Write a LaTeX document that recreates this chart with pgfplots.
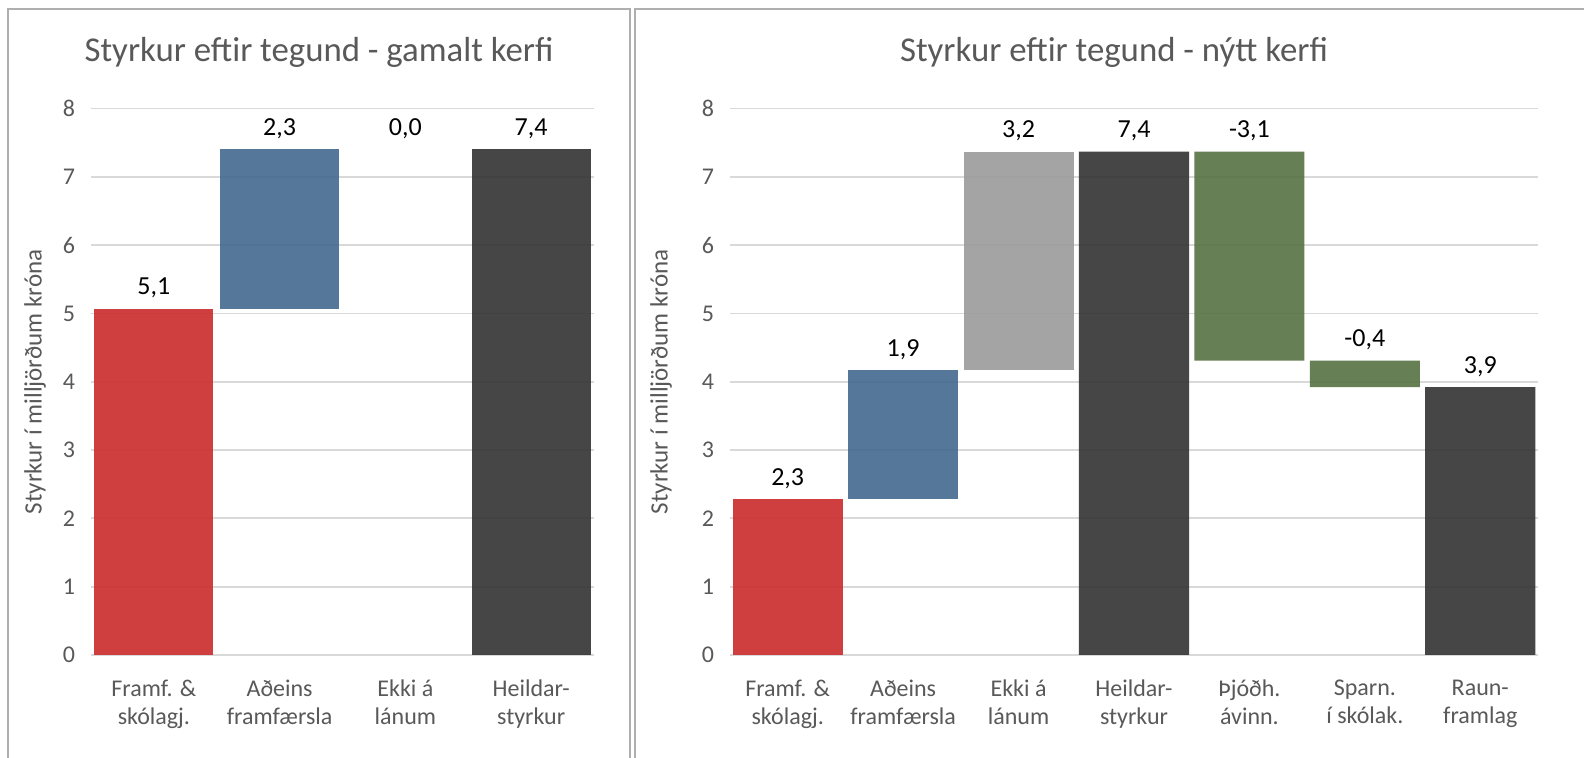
\documentclass[border=0pt]{standalone}
\usepackage{fontspec}
\setmainfont{Carlito}
\usepackage{pgfplots}
\usepackage{pgfplotstable}
\pgfplotsset{compat=1.18}

\definecolor{cred}{RGB}{203,43,43}
\definecolor{cblue}{RGB}{67,105,143}
\definecolor{cgray}{RGB}{155,155,155}
\definecolor{cdark}{RGB}{50,50,50}
\definecolor{cgreen}{RGB}{86,114,66}
\definecolor{txtgray}{RGB}{89,89,89}
\definecolor{gridgray}{RGB}{217,217,217}
\definecolor{framegray}{RGB}{175,175,175}

% x = category, base = invisible start, one column per colour,
% top = upper end of the bar, label = data label
\pgfplotstableread{
x base red blue gray dark green top label
0 0.00 5.07 0.00 0 0.00 0 5.07 5,1
1 5.07 0.00 2.33 0 0.00 0 7.40 2,3
2 7.40 0.00 0.00 0 0.00 0 7.40 0,0
3 0.00 0.00 0.00 0 7.40 0 7.40 7,4
}\gamalt

\pgfplotstableread{
x base red blue gray dark green top label
0 0.00 2.28 0.00 0.00 0.00 0.00 2.28 2,3
1 2.28 0.00 1.89 0.00 0.00 0.00 4.17 1,9
2 4.17 0.00 0.00 3.20 0.00 0.00 7.37 3,2
3 0.00 0.00 0.00 0.00 7.37 0.00 7.37 7,4
4 4.31 0.00 0.00 0.00 0.00 3.06 7.37 -3,1
5 3.92 0.00 0.00 0.00 0.00 0.39 4.31 -0,4
6 0.00 0.00 0.00 0.00 3.92 0.00 3.92 3,9
}\nytt

\pgfplotsset{
    wfall/.style={
        scale only axis,
        anchor=south west,
        height=273.25pt,
        ybar stacked,
        ymin=0, ymax=8,
        ytick={0,1,...,8},
        ymajorgrids,
        grid style={gridgray, line width=0.9pt},
        axis line style={draw=none},
        tick style={draw=none},
        xtick=data,
        enlarge x limits=false,
        /pgf/number format/assume math mode=true,
        yticklabel style={font=\fontsize{12}{14}\selectfont, text=txtgray, xshift=-4.5pt},
        xticklabel style={font=\fontsize{12}{14}\selectfont, text=txtgray, align=center, yshift=-9pt},
        every axis y label/.style={at={(axis description cs:0,0.5)}, rotate=90, anchor=center,
            font=\fontsize{12.5}{14}\selectfont, text=txtgray},
        ylabel={Styrkur í milljörðum króna},
    },
    labels/.style={
        scale only axis,
        anchor=south west,
        height=273.25pt,
        ymin=0, ymax=8,
        hide axis,
        clip=false,
    },
    seg/.style={fill=#1, draw=none, fill opacity=0.9},
    lab/.style={draw=none, mark=none, nodes near coords, point meta=explicit symbolic,
        every node near coord/.style={anchor=base, yshift=7pt,
            font=\fontsize{13}{15}\selectfont, text=black}},
}

\begin{document}
\begin{tikzpicture}
\clip (0,0) rectangle (792pt,379pt);
\fill[white] (0,0) rectangle (792pt,379pt);

% panel frames
\draw[framegray, line width=1pt] (4pt,-10pt) rectangle (315pt,374.5pt);
\draw[framegray, line width=1pt] (317.5pt,-10pt) rectangle (810pt,374.5pt);

% titles
\node[text=txtgray, font=\fontsize{17.4}{20}\selectfont] at (159.5pt,353pt) {Styrkur eftir tegund - gamalt kerfi};
\node[text=txtgray, font=\fontsize{17.4}{20}\selectfont] at (557pt,353pt) {Styrkur eftir tegund - nýtt kerfi};

% left: old system
\begin{axis}[wfall,
    at={(45.5pt,51.5pt)},
    width=251.5pt,
    xmin=-0.5, xmax=3.5,
    bar width=0.946,
    ylabel style={yshift=28pt},
    xticklabels={{Framf. \&\\skólagj.},{Aðeins\\framfærsla},{Ekki á\\lánum},{Heildar-\\styrkur}},
]
\addplot[draw=none, fill=none] table[x=x, y=base] {\gamalt};
\addplot[seg=cred] table[x=x, y=red] {\gamalt};
\addplot[seg=cblue] table[x=x, y=blue] {\gamalt};
\addplot[seg=cgray] table[x=x, y=gray] {\gamalt};
\addplot[seg=cdark] table[x=x, y=dark] {\gamalt};
\addplot[seg=cgreen] table[x=x, y=green] {\gamalt};
\end{axis}
\begin{axis}[labels, at={(45.5pt,51.5pt)}, width=251.5pt, xmin=-0.5, xmax=3.5]
\addplot[lab] table[x=x, y=top, meta=label] {\gamalt};
\end{axis}

% right: new system
\begin{axis}[wfall,
    at={(365pt,51.5pt)},
    width=404pt,
    xmin=-0.5, xmax=6.5,
    bar width=0.954,
    ylabel style={yshift=34.5pt},
    xticklabels={{Framf. \&\\skólagj.},{Aðeins\\framfærsla},{Ekki á\\lánum},{Heildar-\\styrkur},{Þjóðh.\\ávinn.},{Sparn.\\í skólak.},{Raun-\\framlag}},
]
\addplot[draw=none, fill=none] table[x=x, y=base] {\nytt};
\addplot[seg=cred] table[x=x, y=red] {\nytt};
\addplot[seg=cblue] table[x=x, y=blue] {\nytt};
\addplot[seg=cgray] table[x=x, y=gray] {\nytt};
\addplot[seg=cdark] table[x=x, y=dark] {\nytt};
\addplot[seg=cgreen] table[x=x, y=green] {\nytt};
\end{axis}
\begin{axis}[labels, at={(365pt,51.5pt)}, width=404pt, xmin=-0.5, xmax=6.5]
\addplot[lab] table[x=x, y=top, meta=label] {\nytt};
\end{axis}
\end{tikzpicture}
\end{document}
